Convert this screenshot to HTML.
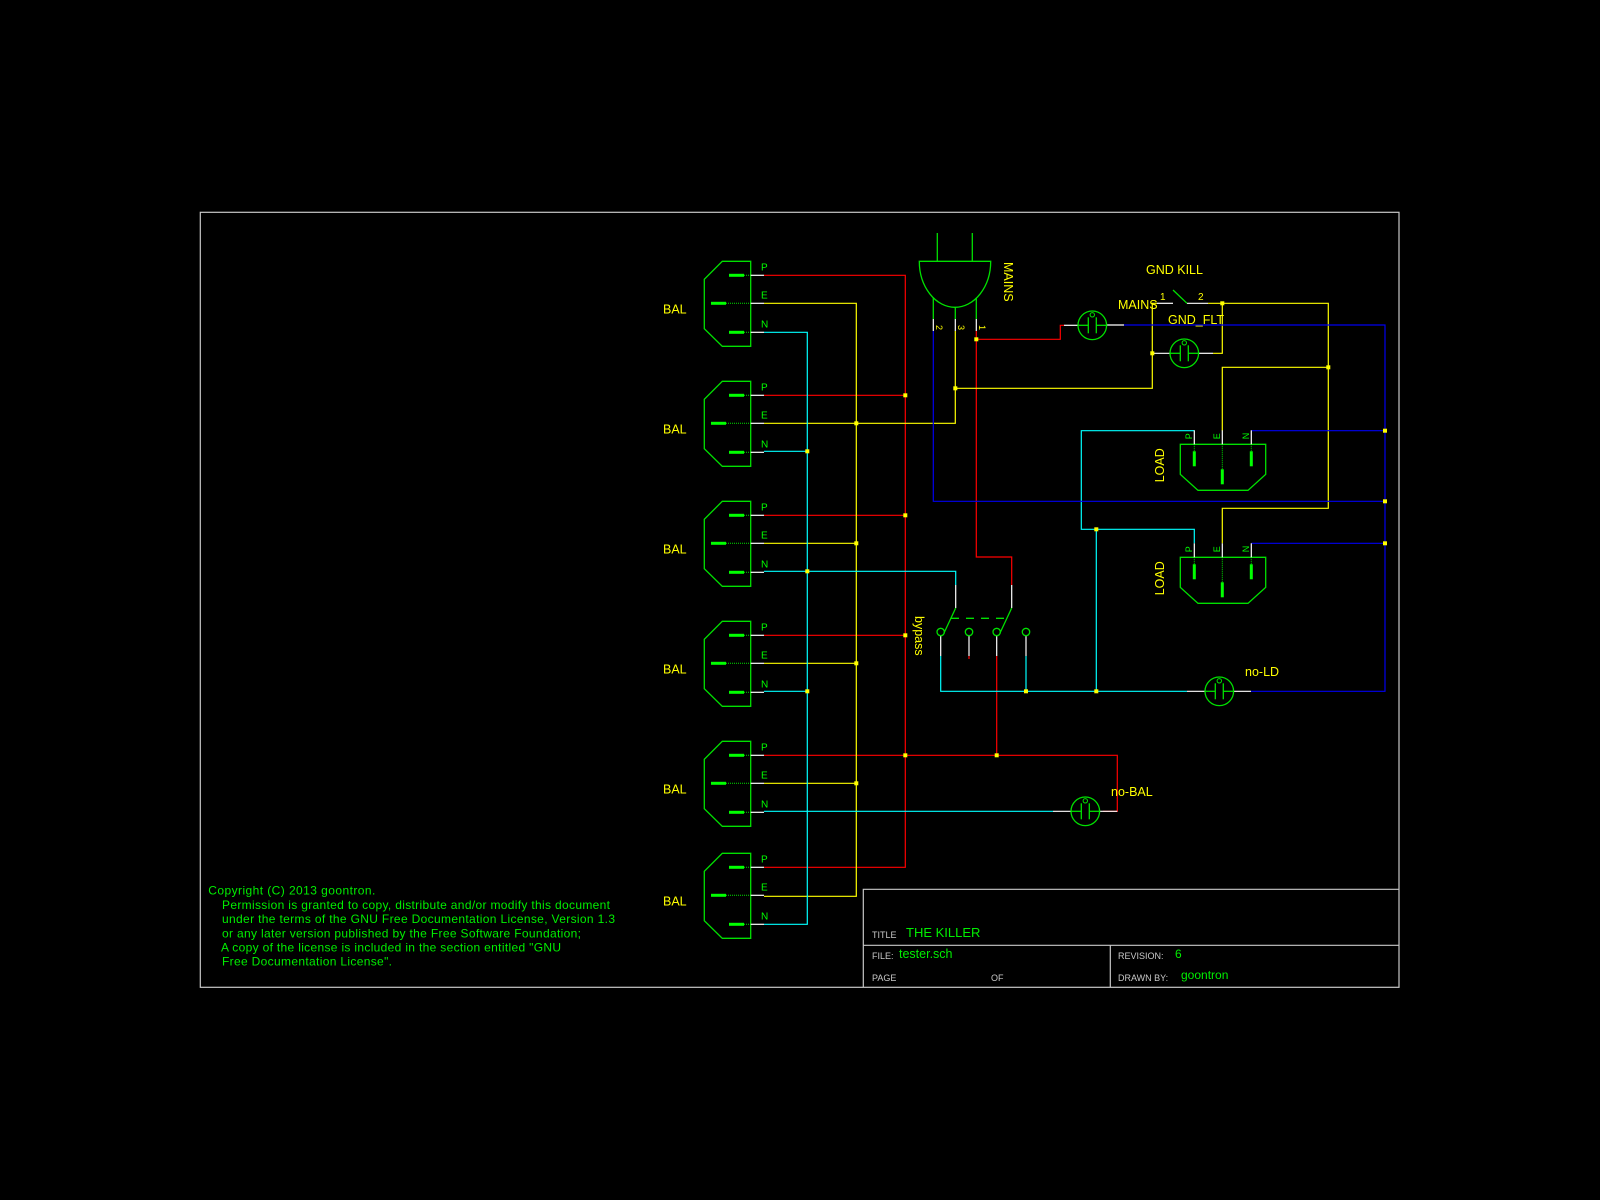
<!DOCTYPE html>
<html><head><meta charset="utf-8"><style>
html,body{margin:0;padding:0;background:#000;}
svg{display:block;}
text{font-family:"Liberation Sans",sans-serif;}
</style></head><body>
<svg width="1600" height="1200" viewBox="0 0 1600 1200" xmlns="http://www.w3.org/2000/svg">
<defs>
<g id="bal">
<polygon points="722.3,0 750.7,0 750.7,85 722.3,85 704.3,67.4 704.3,18" fill="none" stroke="#00e000" stroke-width="1.3"/>
<line x1="729" y1="14" x2="744" y2="14" stroke="#00ff00" stroke-width="3"/>
<line x1="711" y1="42" x2="726" y2="42" stroke="#00ff00" stroke-width="3"/>
<line x1="729" y1="71" x2="744" y2="71" stroke="#00ff00" stroke-width="3"/>
<g stroke="#00e000" stroke-width="1" stroke-dasharray="1,1">
<line x1="744" y1="14" x2="750.7" y2="14"/><line x1="726" y1="42" x2="750.7" y2="42"/><line x1="744" y1="71" x2="750.7" y2="71"/></g>
<g stroke="#fff" stroke-width="1.2"><line x1="750.7" y1="14" x2="764" y2="14"/><line x1="750.7" y1="42" x2="764" y2="42"/><line x1="750.7" y1="71" x2="764" y2="71"/></g>
<g fill="#00ff00" font-size="10"><text x="761" y="9">P</text><text x="761" y="37">E</text><text x="761" y="66">N</text></g>
<text x="663" y="52" fill="#ffff00" font-size="12.5">BAL</text>
</g>
<g id="lamp">
<circle cx="0" cy="0" r="14.3" fill="none" stroke="#00e000" stroke-width="1.3"/>
<line x1="-4" y1="-8" x2="-4" y2="8" stroke="#00e000" stroke-width="1.3"/>
<line x1="4" y1="-8" x2="4" y2="8" stroke="#00e000" stroke-width="1.3"/>
<line x1="-14.3" y1="0" x2="-4" y2="0" stroke="#00e000" stroke-width="1.3"/>
<line x1="4" y1="0" x2="14.3" y2="0" stroke="#00e000" stroke-width="1.3"/>
<circle cx="0" cy="-10.5" r="2.2" fill="none" stroke="#00e000" stroke-width="1"/>
</g>
<g id="load">
<polygon points="1180.3,0 1265.7,0 1265.7,30 1248,46 1198,46 1180.3,30" fill="none" stroke="#00e000" stroke-width="1.3"/>
<line x1="1194.3" y1="7" x2="1194.3" y2="22" stroke="#00ff00" stroke-width="3"/>
<line x1="1222.3" y1="25" x2="1222.3" y2="40" stroke="#00ff00" stroke-width="3"/>
<line x1="1251.3" y1="7" x2="1251.3" y2="22" stroke="#00ff00" stroke-width="3"/>
<g stroke="#00e000" stroke-width="1" stroke-dasharray="1,1">
<line x1="1194.3" y1="0" x2="1194.3" y2="7"/><line x1="1222.3" y1="0" x2="1222.3" y2="25"/><line x1="1251.3" y1="0" x2="1251.3" y2="7"/></g>
<g stroke="#fff" stroke-width="1.2"><line x1="1194.3" y1="-14" x2="1194.3" y2="0"/><line x1="1222.3" y1="-14" x2="1222.3" y2="0"/><line x1="1251.3" y1="-14" x2="1251.3" y2="0"/></g>
<g fill="#00ff00" font-size="9">
<text transform="translate(1192,-5) rotate(-90)">P</text>
<text transform="translate(1220,-5) rotate(-90)">E</text>
<text transform="translate(1249,-5) rotate(-90)">N</text></g>
<text transform="translate(1164,38) rotate(-90)" fill="#ffff00" font-size="12.5">LOAD</text>
</g>
</defs>

<rect x="200.3" y="212.3" width="1198.7" height="775" fill="none" stroke="#c8c8c8" stroke-width="1.2"/>

<g fill="none" stroke-width="1.2">
<g stroke="#ff0000">
<polyline points="764,275.3 905.3,275.3 905.3,867.3 764,867.3"/>
<line x1="764" y1="395.3" x2="905.3" y2="395.3"/>
<line x1="764" y1="515.3" x2="905.3" y2="515.3"/>
<line x1="764" y1="635.3" x2="905.3" y2="635.3"/>
<polyline points="764,755.3 1117.3,755.3 1117.3,811.3 1103,811.3"/>
<polyline points="976.3,331 976.3,557 1011.7,557 1011.7,585"/>
<polyline points="976.3,339.3 1060.3,339.3 1060.3,325.3 1064,325.3"/>
<line x1="996.7" y1="656" x2="996.7" y2="755.3"/>
<line x1="969" y1="656" x2="969" y2="659"/>
</g>
<g stroke="#ffff00">
<polyline points="764,303.3 856.3,303.3 856.3,896.3 764,896.3"/>
<polyline points="764,423.3 955.3,423.3 955.3,331"/>
<line x1="764" y1="543.3" x2="856.3" y2="543.3"/>
<line x1="764" y1="663.3" x2="856.3" y2="663.3"/>
<line x1="764" y1="783.3" x2="856.3" y2="783.3"/>
<polyline points="955.3,388.3 1152.3,388.3 1152.3,303.3 1157,303.3"/>
<polyline points="1208,303.3 1328.3,303.3 1328.3,508.3 1222.3,508.3 1222.3,543.3"/>
<polyline points="1328.3,367.3 1222.3,367.3 1222.3,430.7"/>
<polyline points="1213,353.3 1222.3,353.3 1222.3,303.3"/>
</g>
<g stroke="#00ffff">
<polyline points="764,332.3 807.3,332.3 807.3,924.3 764,924.3"/>
<line x1="764" y1="451.3" x2="807.3" y2="451.3"/>
<polyline points="764,571.3 955.7,571.3 955.7,585"/>
<line x1="764" y1="691.3" x2="807.3" y2="691.3"/>
<line x1="764" y1="811.3" x2="1053" y2="811.3"/>
<polyline points="940.7,656 940.7,691.3 1187,691.3"/>
<line x1="1026" y1="656" x2="1026" y2="691.3"/>
<polyline points="1194.3,430.7 1081.3,430.7 1081.3,529.3 1194.3,529.3 1194.3,543.3"/>
<line x1="1096.3" y1="529.3" x2="1096.3" y2="691.3"/>
</g>
<g stroke="#0000ee">
<polyline points="933.3,331 933.3,501.3 1385,501.3"/>
<polyline points="1124,325 1385,325 1385,691.3 1251,691.3"/>
<line x1="1251.3" y1="430.7" x2="1385" y2="430.7"/>
<line x1="1251.3" y1="543.3" x2="1385" y2="543.3"/>
</g>
<g stroke="#fff">
<line x1="933.3" y1="319" x2="933.3" y2="331"/>
<line x1="955.3" y1="319" x2="955.3" y2="331"/>
<line x1="976.3" y1="319" x2="976.3" y2="331"/>
<line x1="1064" y1="325.3" x2="1078" y2="325.3"/>
<line x1="1107" y1="325" x2="1124" y2="325"/>
<line x1="1152.3" y1="353.3" x2="1170" y2="353.3"/>
<line x1="1199" y1="353.3" x2="1213" y2="353.3"/>
<line x1="1157" y1="303.3" x2="1173" y2="303.3"/>
<line x1="1187" y1="303.3" x2="1208" y2="303.3"/>
<line x1="1187" y1="691.3" x2="1205" y2="691.3"/>
<line x1="1234" y1="691.3" x2="1251" y2="691.3"/>
<line x1="1053" y1="811.3" x2="1071" y2="811.3"/>
<line x1="1100" y1="811.3" x2="1117.3" y2="811.3"/>
<line x1="955.7" y1="585" x2="955.7" y2="608"/>
<line x1="1011.7" y1="585" x2="1011.7" y2="608"/>
<line x1="940.7" y1="636" x2="940.7" y2="656"/>
<line x1="969" y1="636" x2="969" y2="656"/>
<line x1="996.7" y1="636" x2="996.7" y2="656"/>
<line x1="1026" y1="636" x2="1026" y2="656"/>
</g>
</g>

<g fill="#ffff00">
<rect x="903.3" y="393.3" width="4" height="4"/><rect x="903.3" y="513.3" width="4" height="4"/>
<rect x="903.3" y="633.3" width="4" height="4"/><rect x="903.3" y="753.3" width="4" height="4"/>
<rect x="854.3" y="421.3" width="4" height="4"/><rect x="854.3" y="541.3" width="4" height="4"/>
<rect x="854.3" y="661.3" width="4" height="4"/><rect x="854.3" y="781.3" width="4" height="4"/>
<rect x="805.3" y="449.3" width="4" height="4"/><rect x="805.3" y="569.3" width="4" height="4"/>
<rect x="805.3" y="689.3" width="4" height="4"/>
<rect x="974.3" y="337.3" width="4" height="4"/><rect x="953.3" y="386.3" width="4" height="4"/>
<rect x="994.7" y="753.3" width="4" height="4"/>
<rect x="1024" y="689.3" width="4" height="4"/><rect x="1094.3" y="689.3" width="4" height="4"/>
<rect x="1094.3" y="527.3" width="4" height="4"/>
<rect x="1150.3" y="351.3" width="4" height="4"/><rect x="1220.3" y="301.3" width="4" height="4"/>
<rect x="1326.3" y="365.3" width="4" height="4"/>
<rect x="1383" y="428.7" width="4" height="4"/><rect x="1383" y="499.3" width="4" height="4"/>
<rect x="1383" y="541.3" width="4" height="4"/>
</g>

<use href="#bal" transform="translate(0,261.3)"/>
<use href="#bal" transform="translate(0,381.3)"/>
<use href="#bal" transform="translate(0,501.3)"/>
<use href="#bal" transform="translate(0,621.3)"/>
<use href="#bal" transform="translate(0,741.3)"/>
<use href="#bal" transform="translate(0,853.3)"/>

<path d="M919.3,261.3 L990.7,261.3 A35.7,46 0 0 1 919.3,261.3 Z" fill="none" stroke="#00e000" stroke-width="1.3"/>
<g stroke="#00e000" stroke-width="1.3">
<line x1="937.3" y1="233" x2="937.3" y2="261.3"/><line x1="972.3" y1="233" x2="972.3" y2="261.3"/>
<line x1="933.3" y1="298" x2="933.3" y2="319"/><line x1="955.3" y1="307" x2="955.3" y2="319"/><line x1="976.3" y1="298" x2="976.3" y2="319"/>
</g>
<g fill="#ffff00" font-size="9">
<text transform="translate(936,325) rotate(90)">2</text>
<text transform="translate(958,325) rotate(90)">3</text>
<text transform="translate(979,325) rotate(90)">1</text>
</g>
<text transform="translate(1004,262) rotate(90)" fill="#ffff00" font-size="12.5">MAINS</text>

<text x="1146" y="274" fill="#ffff00" font-size="12.5">GND KILL</text>
<text x="1160" y="300" fill="#ffff00" font-size="10">1</text>
<text x="1198" y="300" fill="#ffff00" font-size="10">2</text>
<line x1="1173" y1="290" x2="1187" y2="303.3" stroke="#00e000" stroke-width="1.3"/>
<text x="1118" y="309" fill="#ffff00" font-size="12.5">MAINS</text>
<text x="1168" y="324" fill="#ffff00" font-size="12.5">GND_FLT</text>

<use href="#lamp" transform="translate(1092.3,325.3)"/>
<use href="#lamp" transform="translate(1184.3,353.3)"/>
<use href="#lamp" transform="translate(1219.3,691.3)"/>
<use href="#lamp" transform="translate(1085.3,811.3)"/>
<text x="1245" y="676" fill="#ffff00" font-size="12.5">no-LD</text>
<text x="1111" y="796" fill="#ffff00" font-size="12.5">no-BAL</text>

<use href="#load" transform="translate(0,444.3)"/>
<use href="#load" transform="translate(0,557.3)"/>

<g stroke="#00e000" stroke-width="1.3" fill="none">
<line x1="955.7" y1="608" x2="944" y2="633"/>
<line x1="1011.7" y1="608" x2="1000" y2="633"/>
<line x1="951" y1="618.3" x2="1007" y2="618.3" stroke-dasharray="8,7"/>
<circle cx="940.7" cy="632" r="3.7"/><circle cx="969" cy="632" r="3.7"/>
<circle cx="996.7" cy="632" r="3.7"/><circle cx="1026" cy="632" r="3.7"/>
</g>
<text transform="translate(915,616) rotate(90)" fill="#ffff00" font-size="12.5">bypass</text>

<g fill="none" stroke="#c8c8c8" stroke-width="1.2">
<polyline points="863.3,987.3 863.3,889.3 1399,889.3"/>
<line x1="863.3" y1="945.3" x2="1399" y2="945.3"/>
<line x1="1110.3" y1="945.3" x2="1110.3" y2="987.3"/>
</g>
<g fill="#c8c8c8" font-size="9">
<text x="872" y="938">TITLE</text>
<text x="872" y="959">FILE:</text>
<text x="872" y="981">PAGE</text>
<text x="991" y="981">OF</text>
<text x="1118" y="959">REVISION:</text>
<text x="1118" y="981">DRAWN BY:</text>
</g>
<g fill="#00ee00">
<text x="906" y="937" font-size="13">THE KILLER</text>
<text x="899" y="958" font-size="12.5">tester.sch</text>
<text x="1175" y="958" font-size="12">6</text>
<text x="1181" y="979" font-size="12">goontron</text>
</g>

<g fill="#00ee00" font-size="12">
<text x="208.3" y="894.5" textLength="167" lengthAdjust="spacing">Copyright (C)  2013 goontron.</text>
<text x="222" y="909" textLength="388" lengthAdjust="spacing">Permission is granted to copy, distribute and/or modify this document</text>
<text x="222" y="923" textLength="393" lengthAdjust="spacing">under the terms of the GNU Free Documentation License, Version 1.3</text>
<text x="222" y="937.5" textLength="359" lengthAdjust="spacing">or any later version published by the Free Software Foundation;</text>
<text x="221" y="951.5" textLength="340" lengthAdjust="spacing">A copy of the license is included in the section entitled "GNU</text>
<text x="222" y="965.5" textLength="170" lengthAdjust="spacing">Free Documentation License".</text>
</g>
</svg>
</body></html>
